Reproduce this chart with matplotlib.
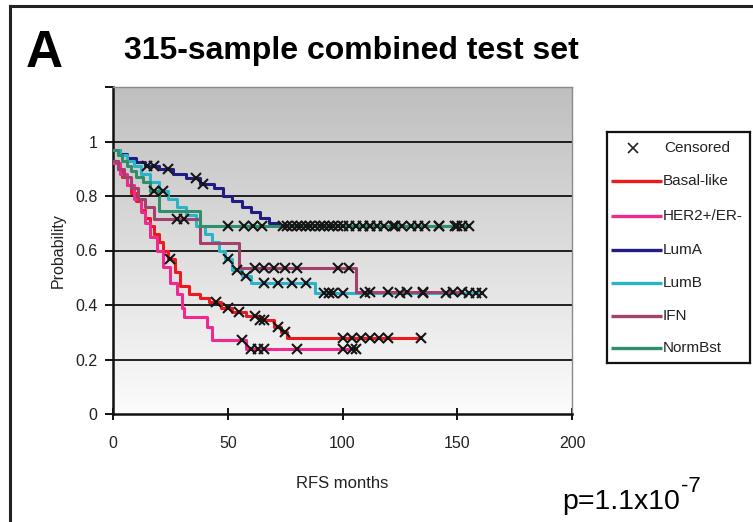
import numpy as np
import matplotlib
matplotlib.use("Agg")
import matplotlib.pyplot as plt
from matplotlib.lines import Line2D
from matplotlib.colors import LinearSegmentedColormap

# ---------------- data ----------------
groups = ["Basal-like", "HER2+/ER-", "LumA", "LumB", "IFN", "NormBst"]
colors = ["#ec1a1e", "#ee2a8e", "#201c82", "#2ab4c8", "#a2406e", "#2f8f6a"]

basal_t = [0, 2, 4, 6, 8, 10, 12, 14, 16, 18, 20, 22, 24, 27, 29, 33, 38, 42, 47, 52, 58, 64, 70, 73, 76]
basal_s = [0.93, 0.90, 0.87, 0.84, 0.81, 0.78, 0.75, 0.72, 0.69, 0.66, 0.63, 0.60, 0.57, 0.52, 0.47,
           0.44, 0.425, 0.41, 0.39, 0.375, 0.36, 0.345, 0.32, 0.30, 0.28]
basal_c = [25, 45, 50, 55, 62, 64, 66, 72, 75, 100, 104, 108, 112, 116, 120, 134]

her2_t = [0, 3, 6, 9, 12, 14, 16, 19, 22, 25, 28, 30, 31, 41, 43, 58]
her2_s = [0.92, 0.88, 0.84, 0.79, 0.74, 0.70, 0.65, 0.60, 0.54, 0.48, 0.44, 0.39, 0.355, 0.32, 0.27, 0.24]
her2_c = [56, 60, 63, 66, 80, 100, 104, 106]

luma_t = [0, 3, 6, 10, 14, 20, 26, 32, 38, 44, 48, 52, 56, 60, 64, 68, 72]
luma_s = [0.97, 0.955, 0.94, 0.925, 0.91, 0.90, 0.88, 0.865, 0.845, 0.83, 0.80, 0.78, 0.76, 0.74,
          0.72, 0.70, 0.69]
luma_c = [15, 18, 24, 36, 39, 74, 76, 78, 80, 82, 84, 86, 88, 90, 92, 94, 96, 98, 100, 103, 106,
          109, 112, 115, 118, 122, 126, 130, 136, 142, 150, 152]

lumb_t = [0, 3, 6, 9, 12, 16, 20, 24, 28, 32, 36, 40, 43, 46, 49, 52, 56, 60, 88]
lumb_s = [0.97, 0.95, 0.93, 0.91, 0.88, 0.85, 0.82, 0.79, 0.76, 0.73, 0.69, 0.66, 0.63, 0.60, 0.57,
          0.53, 0.505, 0.48, 0.445]
lumb_c = [22, 50, 54, 58, 66, 72, 78, 84, 92, 94, 96, 100, 110, 125, 135, 145, 155, 158, 161]

ifn_t = [0, 2, 5, 8, 11, 14, 18, 38, 55, 106]
ifn_s = [0.93, 0.90, 0.87, 0.83, 0.79, 0.76, 0.715, 0.626, 0.535, 0.447]
ifn_c = [28, 31, 62, 66, 70, 75, 80, 98, 103, 112, 120, 128, 135, 148, 152]

norm_t = [0, 2, 4, 6, 8, 10, 13, 16, 20, 38]
norm_s = [0.97, 0.95, 0.93, 0.91, 0.89, 0.87, 0.85, 0.82, 0.745, 0.69]
norm_c = [18, 50, 57, 61, 65, 112, 123, 133, 142, 149, 155]

series_t = [basal_t, her2_t, luma_t, lumb_t, ifn_t, norm_t]
series_s = [basal_s, her2_s, luma_s, lumb_s, ifn_s, norm_s]
series_c = [basal_c, her2_c, luma_c, lumb_c, ifn_c, norm_c]

xticks = [0, 50, 100, 150, 200]
yticks = [0, 0.2, 0.4, 0.6, 0.8, 1.0, 1.2]
ytick_labels = ["0", "0.2", "0.4", "0.6", "0.8", "1", ""]

SANS = ["Liberation Sans", "DejaVu Sans"]
TXT = "#222222"

# ---------------- figure ----------------
W, H = 753, 522
fig = plt.figure(figsize=(W / 100, H / 100), dpi=100)
fig.patch.set_facecolor("white")

def fx(px):
    return px / W

def fy(py):
    return 1 - py / H

# outer border (top and left)
fig.add_artist(Line2D([fx(10), 1.0], [fy(6), fy(6)], color="#222222", lw=2.2, transform=fig.transFigure))
fig.add_artist(Line2D([fx(10), fx(10)], [fy(6), 0.0], color="#222222", lw=2.2, transform=fig.transFigure))

ax = fig.add_axes([fx(113), fy(414), fx(572) - fx(113), fy(87) - fy(414)])
ax.set_xlim(0, 200)
ax.set_ylim(0, 1.2)

# gradient background
grad = np.linspace(0, 1, 256).reshape(-1, 1)
cmap = LinearSegmentedColormap.from_list("bg", ["#fcfcfc", "#bfbfbf"])
ax.imshow(grad, extent=[0, 200, 0, 1.2], origin="lower", aspect="auto", cmap=cmap, zorder=0)

# horizontal gridlines
for yv in [0.2, 0.4, 0.6, 0.8, 1.0]:
    ax.axhline(yv, color="#111111", lw=1.3, zorder=1)

# survival curves
for t, s, c, col in zip(series_t, series_s, series_c, colors):
    end = max(c[-1], t[-1])
    xs = list(t) + [end]
    ys = list(s) + [s[-1]]
    ax.step(xs, ys, where="post", color=col, lw=2.2, zorder=3)

for t, s, c, col in zip(series_t, series_s, series_c, colors):
    idx = np.searchsorted(t, c, side="right") - 1
    cy = np.array(s)[idx]
    ax.plot(c, cy, ls="none", marker="x", ms=7.5, mew=1.5, color="#151515", zorder=4)

# spines
for side in ["top", "right"]:
    ax.spines[side].set_color("#8a8a8a")
    ax.spines[side].set_linewidth(1.0)
for side in ["left", "bottom"]:
    ax.spines[side].set_color("#111111")
    ax.spines[side].set_linewidth(1.8)

ax.set_xticks(xticks)
ax.set_xticklabels([str(v) for v in xticks], fontsize=11.5, family=SANS, color=TXT)
ax.set_yticks(yticks)
ax.set_yticklabels(ytick_labels, fontsize=11.5, family=SANS, color=TXT)
ax.tick_params(axis="x", direction="inout", length=8, width=1.4, pad=12, color="#111111")
ax.tick_params(axis="y", direction="out", length=6, width=1.4, pad=5, color="#111111")

ax.set_xlabel("RFS months", fontsize=12, family=SANS, color=TXT, labelpad=18)
ax.set_ylabel("Probability", fontsize=11.5, family=SANS, color=TXT, labelpad=7)

# titles
fig.text(fx(26), fy(67), "A", fontsize=37, fontweight="bold", family=SANS, ha="left", va="baseline")
fig.text(fx(124), fy(59), "315-sample combined test set", fontsize=23, fontweight="bold",
         family=SANS, ha="left", va="baseline")

# p-value
fig.text(fx(562), fy(509), "p=1.1x10", fontsize=20.5, family=SANS, ha="left", va="baseline")
fig.text(fx(681), fy(492), "-7", fontsize=16, family=SANS, ha="left", va="baseline")

# manual legend
L0, L1, T0, T1 = 607, 750, 132, 363
lax = fig.add_axes([fx(L0), fy(T1), fx(L1) - fx(L0), fy(T0) - fy(T1)])
lax.set_xlim(L0, L1)
lax.set_ylim(T1, T0)
lax.set_xticks([])
lax.set_yticks([])
for sp in lax.spines.values():
    sp.set_color("#111111")
    sp.set_linewidth(1.6)
lax.set_facecolor("white")
lax.plot([633], [148], ls="none", marker="x", ms=7, mew=1.2, color="#222222")
lax.text(664, 148, "Censored", fontsize=11, family=SANS, va="center", ha="left", color=TXT)
entry_y = [181, 216, 250, 283, 316, 348]
for g, col, yy in zip(groups, colors, entry_y):
    lax.plot([611, 662], [yy, yy], color=col, lw=2.4, solid_capstyle="butt")
    lax.text(663, yy, g, fontsize=11, family=SANS, va="center", ha="left", color=TXT)

fig.savefig("out.png", dpi=100, facecolor="white")
